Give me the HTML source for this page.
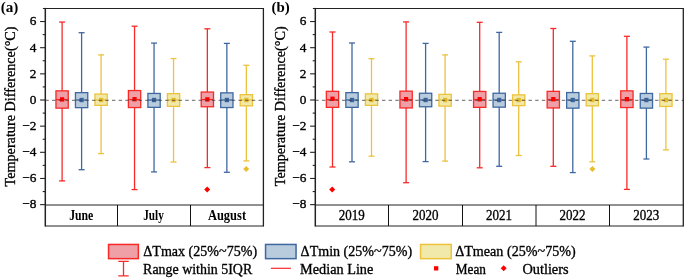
<!DOCTYPE html>
<html><head><meta charset="utf-8"><style>
*{margin:0;padding:0}
html,body{width:685px;height:278px;background:#fff;overflow:hidden}
svg{display:block;will-change:transform}
text{font-family:"Liberation Serif",serif;fill:#000;stroke:#000;stroke-width:0.2px}
</style></head>
<body><svg width="685" height="278" viewBox="0 0 685 278">
<rect width="685" height="278" fill="#fff"/>
<line x1="40.10" y1="204.64" x2="45.30" y2="204.64" stroke="#222" stroke-width="1.1"/>
<line x1="42.70" y1="191.56" x2="45.30" y2="191.56" stroke="#222" stroke-width="1.1"/>
<line x1="40.10" y1="178.48" x2="45.30" y2="178.48" stroke="#222" stroke-width="1.1"/>
<line x1="42.70" y1="165.40" x2="45.30" y2="165.40" stroke="#222" stroke-width="1.1"/>
<line x1="40.10" y1="152.32" x2="45.30" y2="152.32" stroke="#222" stroke-width="1.1"/>
<line x1="42.70" y1="139.24" x2="45.30" y2="139.24" stroke="#222" stroke-width="1.1"/>
<line x1="40.10" y1="126.16" x2="45.30" y2="126.16" stroke="#222" stroke-width="1.1"/>
<line x1="42.70" y1="113.08" x2="45.30" y2="113.08" stroke="#222" stroke-width="1.1"/>
<line x1="40.10" y1="100.00" x2="45.30" y2="100.00" stroke="#222" stroke-width="1.1"/>
<line x1="42.70" y1="86.92" x2="45.30" y2="86.92" stroke="#222" stroke-width="1.1"/>
<line x1="40.10" y1="73.84" x2="45.30" y2="73.84" stroke="#222" stroke-width="1.1"/>
<line x1="42.70" y1="60.76" x2="45.30" y2="60.76" stroke="#222" stroke-width="1.1"/>
<line x1="40.10" y1="47.68" x2="45.30" y2="47.68" stroke="#222" stroke-width="1.1"/>
<line x1="42.70" y1="34.60" x2="45.30" y2="34.60" stroke="#222" stroke-width="1.1"/>
<line x1="40.10" y1="21.52" x2="45.30" y2="21.52" stroke="#222" stroke-width="1.1"/>
<line x1="62.10" y1="22.05" x2="62.10" y2="108.40" stroke="#F72A28" stroke-width="1.3"/>
<line x1="62.10" y1="90.60" x2="62.10" y2="180.90" stroke="#F72A28" stroke-width="1.3"/>
<line x1="59.10" y1="22.05" x2="65.10" y2="22.05" stroke="#F72A28" stroke-width="1.3"/>
<line x1="59.10" y1="180.90" x2="65.10" y2="180.90" stroke="#F72A28" stroke-width="1.3"/>
<rect x="55.95" y="90.85" width="12.30" height="17.30" fill="#EEA0A6" stroke="#F72A28" stroke-width="1.3"/>
<line x1="55.90" y1="99.60" x2="68.30" y2="99.60" stroke="#F72A28" stroke-width="1.3"/>
<rect x="60.00" y="97.20" width="4.2" height="4.4" fill="#FF0000"/>
<line x1="81.60" y1="32.70" x2="81.60" y2="107.90" stroke="#3F68A0" stroke-width="1.3"/>
<line x1="81.60" y1="92.40" x2="81.60" y2="169.70" stroke="#3F68A0" stroke-width="1.3"/>
<line x1="78.60" y1="32.70" x2="84.60" y2="32.70" stroke="#3F68A0" stroke-width="1.3"/>
<line x1="78.60" y1="169.70" x2="84.60" y2="169.70" stroke="#3F68A0" stroke-width="1.3"/>
<rect x="75.45" y="92.65" width="12.30" height="15.00" fill="#B8CCDE" stroke="#3F68A0" stroke-width="1.3"/>
<line x1="75.40" y1="100.00" x2="87.80" y2="100.00" stroke="#3F68A0" stroke-width="1.3"/>
<rect x="79.50" y="97.80" width="4.2" height="4.4" fill="#3A64A0"/>
<line x1="101.10" y1="54.90" x2="101.10" y2="105.60" stroke="#EDC23C" stroke-width="1.3"/>
<line x1="101.10" y1="93.80" x2="101.10" y2="153.60" stroke="#EDC23C" stroke-width="1.3"/>
<line x1="98.10" y1="54.90" x2="104.10" y2="54.90" stroke="#EDC23C" stroke-width="1.3"/>
<line x1="98.10" y1="153.60" x2="104.10" y2="153.60" stroke="#EDC23C" stroke-width="1.3"/>
<rect x="94.95" y="94.05" width="12.30" height="11.30" fill="#F1E9AA" stroke="#EDC23C" stroke-width="1.3"/>
<line x1="94.90" y1="100.00" x2="107.30" y2="100.00" stroke="#EDC23C" stroke-width="1.3"/>
<rect x="99.00" y="97.80" width="4.2" height="4.4" fill="#E5BA2A"/>
<line x1="134.55" y1="26.20" x2="134.55" y2="107.80" stroke="#F72A28" stroke-width="1.3"/>
<line x1="134.55" y1="90.30" x2="134.55" y2="189.60" stroke="#F72A28" stroke-width="1.3"/>
<line x1="131.55" y1="26.20" x2="137.55" y2="26.20" stroke="#F72A28" stroke-width="1.3"/>
<line x1="131.55" y1="189.60" x2="137.55" y2="189.60" stroke="#F72A28" stroke-width="1.3"/>
<rect x="128.40" y="90.55" width="12.30" height="17.00" fill="#EEA0A6" stroke="#F72A28" stroke-width="1.3"/>
<line x1="128.35" y1="99.60" x2="140.75" y2="99.60" stroke="#F72A28" stroke-width="1.3"/>
<rect x="132.45" y="97.00" width="4.2" height="4.4" fill="#FF0000"/>
<line x1="154.05" y1="43.10" x2="154.05" y2="107.60" stroke="#3F68A0" stroke-width="1.3"/>
<line x1="154.05" y1="93.20" x2="154.05" y2="171.90" stroke="#3F68A0" stroke-width="1.3"/>
<line x1="151.05" y1="43.10" x2="157.05" y2="43.10" stroke="#3F68A0" stroke-width="1.3"/>
<line x1="151.05" y1="171.90" x2="157.05" y2="171.90" stroke="#3F68A0" stroke-width="1.3"/>
<rect x="147.90" y="93.45" width="12.30" height="13.90" fill="#B8CCDE" stroke="#3F68A0" stroke-width="1.3"/>
<line x1="147.85" y1="100.00" x2="160.25" y2="100.00" stroke="#3F68A0" stroke-width="1.3"/>
<rect x="151.95" y="97.80" width="4.2" height="4.4" fill="#3A64A0"/>
<line x1="173.55" y1="58.60" x2="173.55" y2="106.60" stroke="#EDC23C" stroke-width="1.3"/>
<line x1="173.55" y1="93.40" x2="173.55" y2="162.00" stroke="#EDC23C" stroke-width="1.3"/>
<line x1="170.55" y1="58.60" x2="176.55" y2="58.60" stroke="#EDC23C" stroke-width="1.3"/>
<line x1="170.55" y1="162.00" x2="176.55" y2="162.00" stroke="#EDC23C" stroke-width="1.3"/>
<rect x="167.40" y="93.65" width="12.30" height="12.70" fill="#F1E9AA" stroke="#EDC23C" stroke-width="1.3"/>
<line x1="167.35" y1="100.00" x2="179.75" y2="100.00" stroke="#EDC23C" stroke-width="1.3"/>
<rect x="171.45" y="97.80" width="4.2" height="4.4" fill="#E5BA2A"/>
<line x1="207.35" y1="28.80" x2="207.35" y2="107.00" stroke="#F72A28" stroke-width="1.3"/>
<line x1="207.35" y1="91.80" x2="207.35" y2="167.60" stroke="#F72A28" stroke-width="1.3"/>
<line x1="204.35" y1="28.80" x2="210.35" y2="28.80" stroke="#F72A28" stroke-width="1.3"/>
<line x1="204.35" y1="167.60" x2="210.35" y2="167.60" stroke="#F72A28" stroke-width="1.3"/>
<rect x="201.20" y="92.05" width="12.30" height="14.70" fill="#EEA0A6" stroke="#F72A28" stroke-width="1.3"/>
<line x1="201.15" y1="99.60" x2="213.55" y2="99.60" stroke="#F72A28" stroke-width="1.3"/>
<rect x="205.25" y="97.20" width="4.2" height="4.4" fill="#FF0000"/>
<line x1="226.85" y1="43.40" x2="226.85" y2="107.80" stroke="#3F68A0" stroke-width="1.3"/>
<line x1="226.85" y1="92.60" x2="226.85" y2="172.30" stroke="#3F68A0" stroke-width="1.3"/>
<line x1="223.85" y1="43.40" x2="229.85" y2="43.40" stroke="#3F68A0" stroke-width="1.3"/>
<line x1="223.85" y1="172.30" x2="229.85" y2="172.30" stroke="#3F68A0" stroke-width="1.3"/>
<rect x="220.70" y="92.85" width="12.30" height="14.70" fill="#B8CCDE" stroke="#3F68A0" stroke-width="1.3"/>
<line x1="220.65" y1="100.00" x2="233.05" y2="100.00" stroke="#3F68A0" stroke-width="1.3"/>
<rect x="224.75" y="97.80" width="4.2" height="4.4" fill="#3A64A0"/>
<line x1="246.35" y1="65.30" x2="246.35" y2="106.10" stroke="#EDC23C" stroke-width="1.3"/>
<line x1="246.35" y1="94.40" x2="246.35" y2="160.90" stroke="#EDC23C" stroke-width="1.3"/>
<line x1="243.35" y1="65.30" x2="249.35" y2="65.30" stroke="#EDC23C" stroke-width="1.3"/>
<line x1="243.35" y1="160.90" x2="249.35" y2="160.90" stroke="#EDC23C" stroke-width="1.3"/>
<rect x="240.20" y="94.65" width="12.30" height="11.20" fill="#F1E9AA" stroke="#EDC23C" stroke-width="1.3"/>
<line x1="240.15" y1="100.00" x2="252.55" y2="100.00" stroke="#EDC23C" stroke-width="1.3"/>
<rect x="244.25" y="97.80" width="4.2" height="4.4" fill="#E5BA2A"/>
<line x1="45.30" y1="100.30" x2="263.40" y2="100.30" stroke="#404040" stroke-opacity="0.8" stroke-width="1" stroke-dasharray="3.4 3.26" stroke-dashoffset="-0.1"/>
<path d="M207.20 186.60L210.20 189.60L207.20 192.60L204.20 189.60Z" fill="#FF0000"/>
<path d="M246.20 166.10L249.20 169.10L246.20 172.10L243.20 169.10Z" fill="#E8BE30"/>
<line x1="42.90" y1="8.50" x2="264.00" y2="8.50" stroke="#222" stroke-width="1.2"/>
<line x1="263.40" y1="8.50" x2="263.40" y2="226.50" stroke="#222" stroke-width="1.3"/>
<line x1="45.30" y1="7.90" x2="45.30" y2="226.50" stroke="#222" stroke-width="1.5"/>
<line x1="45.30" y1="205.0" x2="263.40" y2="205.0" stroke="#222" stroke-width="1.0"/>
<line x1="45.30" y1="226.00" x2="263.40" y2="226.00" stroke="#222" stroke-width="1.0"/>
<line x1="117.50" y1="205" x2="117.50" y2="226.00" stroke="#111" stroke-width="1.0"/>
<line x1="190.50" y1="205" x2="190.50" y2="226.00" stroke="#111" stroke-width="1.0"/>
<line x1="310.10" y1="204.64" x2="315.30" y2="204.64" stroke="#222" stroke-width="1.1"/>
<line x1="312.70" y1="191.56" x2="315.30" y2="191.56" stroke="#222" stroke-width="1.1"/>
<line x1="310.10" y1="178.48" x2="315.30" y2="178.48" stroke="#222" stroke-width="1.1"/>
<line x1="312.70" y1="165.40" x2="315.30" y2="165.40" stroke="#222" stroke-width="1.1"/>
<line x1="310.10" y1="152.32" x2="315.30" y2="152.32" stroke="#222" stroke-width="1.1"/>
<line x1="312.70" y1="139.24" x2="315.30" y2="139.24" stroke="#222" stroke-width="1.1"/>
<line x1="310.10" y1="126.16" x2="315.30" y2="126.16" stroke="#222" stroke-width="1.1"/>
<line x1="312.70" y1="113.08" x2="315.30" y2="113.08" stroke="#222" stroke-width="1.1"/>
<line x1="310.10" y1="100.00" x2="315.30" y2="100.00" stroke="#222" stroke-width="1.1"/>
<line x1="312.70" y1="86.92" x2="315.30" y2="86.92" stroke="#222" stroke-width="1.1"/>
<line x1="310.10" y1="73.84" x2="315.30" y2="73.84" stroke="#222" stroke-width="1.1"/>
<line x1="312.70" y1="60.76" x2="315.30" y2="60.76" stroke="#222" stroke-width="1.1"/>
<line x1="310.10" y1="47.68" x2="315.30" y2="47.68" stroke="#222" stroke-width="1.1"/>
<line x1="312.70" y1="34.60" x2="315.30" y2="34.60" stroke="#222" stroke-width="1.1"/>
<line x1="310.10" y1="21.52" x2="315.30" y2="21.52" stroke="#222" stroke-width="1.1"/>
<line x1="332.50" y1="32.00" x2="332.50" y2="107.60" stroke="#F72A28" stroke-width="1.3"/>
<line x1="332.50" y1="91.10" x2="332.50" y2="167.00" stroke="#F72A28" stroke-width="1.3"/>
<line x1="329.50" y1="32.00" x2="335.50" y2="32.00" stroke="#F72A28" stroke-width="1.3"/>
<line x1="329.50" y1="167.00" x2="335.50" y2="167.00" stroke="#F72A28" stroke-width="1.3"/>
<rect x="326.35" y="91.35" width="12.30" height="16.00" fill="#EEA0A6" stroke="#F72A28" stroke-width="1.3"/>
<line x1="326.30" y1="99.60" x2="338.70" y2="99.60" stroke="#F72A28" stroke-width="1.3"/>
<rect x="330.40" y="96.60" width="4.2" height="4.4" fill="#FF0000"/>
<line x1="352.00" y1="43.00" x2="352.00" y2="107.60" stroke="#3F68A0" stroke-width="1.3"/>
<line x1="352.00" y1="92.40" x2="352.00" y2="161.80" stroke="#3F68A0" stroke-width="1.3"/>
<line x1="349.00" y1="43.00" x2="355.00" y2="43.00" stroke="#3F68A0" stroke-width="1.3"/>
<line x1="349.00" y1="161.80" x2="355.00" y2="161.80" stroke="#3F68A0" stroke-width="1.3"/>
<rect x="345.85" y="92.65" width="12.30" height="14.70" fill="#B8CCDE" stroke="#3F68A0" stroke-width="1.3"/>
<line x1="345.80" y1="100.00" x2="358.20" y2="100.00" stroke="#3F68A0" stroke-width="1.3"/>
<rect x="349.90" y="97.80" width="4.2" height="4.4" fill="#3A64A0"/>
<line x1="371.50" y1="58.70" x2="371.50" y2="105.60" stroke="#EDC23C" stroke-width="1.3"/>
<line x1="371.50" y1="93.60" x2="371.50" y2="156.20" stroke="#EDC23C" stroke-width="1.3"/>
<line x1="368.50" y1="58.70" x2="374.50" y2="58.70" stroke="#EDC23C" stroke-width="1.3"/>
<line x1="368.50" y1="156.20" x2="374.50" y2="156.20" stroke="#EDC23C" stroke-width="1.3"/>
<rect x="365.35" y="93.85" width="12.30" height="11.50" fill="#F1E9AA" stroke="#EDC23C" stroke-width="1.3"/>
<line x1="365.30" y1="100.00" x2="377.70" y2="100.00" stroke="#EDC23C" stroke-width="1.3"/>
<rect x="369.40" y="97.80" width="4.2" height="4.4" fill="#E5BA2A"/>
<line x1="406.10" y1="21.90" x2="406.10" y2="108.20" stroke="#F72A28" stroke-width="1.3"/>
<line x1="406.10" y1="90.90" x2="406.10" y2="182.70" stroke="#F72A28" stroke-width="1.3"/>
<line x1="403.10" y1="21.90" x2="409.10" y2="21.90" stroke="#F72A28" stroke-width="1.3"/>
<line x1="403.10" y1="182.70" x2="409.10" y2="182.70" stroke="#F72A28" stroke-width="1.3"/>
<rect x="399.95" y="91.15" width="12.30" height="16.80" fill="#EEA0A6" stroke="#F72A28" stroke-width="1.3"/>
<line x1="399.90" y1="99.60" x2="412.30" y2="99.60" stroke="#F72A28" stroke-width="1.3"/>
<rect x="404.00" y="97.00" width="4.2" height="4.4" fill="#FF0000"/>
<line x1="425.60" y1="43.40" x2="425.60" y2="107.00" stroke="#3F68A0" stroke-width="1.3"/>
<line x1="425.60" y1="93.00" x2="425.60" y2="161.60" stroke="#3F68A0" stroke-width="1.3"/>
<line x1="422.60" y1="43.40" x2="428.60" y2="43.40" stroke="#3F68A0" stroke-width="1.3"/>
<line x1="422.60" y1="161.60" x2="428.60" y2="161.60" stroke="#3F68A0" stroke-width="1.3"/>
<rect x="419.45" y="93.25" width="12.30" height="13.50" fill="#B8CCDE" stroke="#3F68A0" stroke-width="1.3"/>
<line x1="419.40" y1="100.00" x2="431.80" y2="100.00" stroke="#3F68A0" stroke-width="1.3"/>
<rect x="423.50" y="97.80" width="4.2" height="4.4" fill="#3A64A0"/>
<line x1="445.10" y1="54.90" x2="445.10" y2="106.40" stroke="#EDC23C" stroke-width="1.3"/>
<line x1="445.10" y1="94.10" x2="445.10" y2="161.10" stroke="#EDC23C" stroke-width="1.3"/>
<line x1="442.10" y1="54.90" x2="448.10" y2="54.90" stroke="#EDC23C" stroke-width="1.3"/>
<line x1="442.10" y1="161.10" x2="448.10" y2="161.10" stroke="#EDC23C" stroke-width="1.3"/>
<rect x="438.95" y="94.35" width="12.30" height="11.80" fill="#F1E9AA" stroke="#EDC23C" stroke-width="1.3"/>
<line x1="438.90" y1="100.00" x2="451.30" y2="100.00" stroke="#EDC23C" stroke-width="1.3"/>
<rect x="443.00" y="97.80" width="4.2" height="4.4" fill="#E5BA2A"/>
<line x1="479.70" y1="22.30" x2="479.70" y2="107.60" stroke="#F72A28" stroke-width="1.3"/>
<line x1="479.70" y1="91.20" x2="479.70" y2="167.80" stroke="#F72A28" stroke-width="1.3"/>
<line x1="476.70" y1="22.30" x2="482.70" y2="22.30" stroke="#F72A28" stroke-width="1.3"/>
<line x1="476.70" y1="167.80" x2="482.70" y2="167.80" stroke="#F72A28" stroke-width="1.3"/>
<rect x="473.55" y="91.45" width="12.30" height="15.90" fill="#EEA0A6" stroke="#F72A28" stroke-width="1.3"/>
<line x1="473.50" y1="99.60" x2="485.90" y2="99.60" stroke="#F72A28" stroke-width="1.3"/>
<rect x="477.60" y="97.00" width="4.2" height="4.4" fill="#FF0000"/>
<line x1="499.20" y1="32.40" x2="499.20" y2="107.40" stroke="#3F68A0" stroke-width="1.3"/>
<line x1="499.20" y1="93.00" x2="499.20" y2="166.30" stroke="#3F68A0" stroke-width="1.3"/>
<line x1="496.20" y1="32.40" x2="502.20" y2="32.40" stroke="#3F68A0" stroke-width="1.3"/>
<line x1="496.20" y1="166.30" x2="502.20" y2="166.30" stroke="#3F68A0" stroke-width="1.3"/>
<rect x="493.05" y="93.25" width="12.30" height="13.90" fill="#B8CCDE" stroke="#3F68A0" stroke-width="1.3"/>
<line x1="493.00" y1="100.00" x2="505.40" y2="100.00" stroke="#3F68A0" stroke-width="1.3"/>
<rect x="497.10" y="97.80" width="4.2" height="4.4" fill="#3A64A0"/>
<line x1="518.70" y1="61.80" x2="518.70" y2="105.90" stroke="#EDC23C" stroke-width="1.3"/>
<line x1="518.70" y1="94.60" x2="518.70" y2="155.50" stroke="#EDC23C" stroke-width="1.3"/>
<line x1="515.70" y1="61.80" x2="521.70" y2="61.80" stroke="#EDC23C" stroke-width="1.3"/>
<line x1="515.70" y1="155.50" x2="521.70" y2="155.50" stroke="#EDC23C" stroke-width="1.3"/>
<rect x="512.55" y="94.85" width="12.30" height="10.80" fill="#F1E9AA" stroke="#EDC23C" stroke-width="1.3"/>
<line x1="512.50" y1="100.00" x2="524.90" y2="100.00" stroke="#EDC23C" stroke-width="1.3"/>
<rect x="516.60" y="97.80" width="4.2" height="4.4" fill="#E5BA2A"/>
<line x1="553.30" y1="28.50" x2="553.30" y2="108.20" stroke="#F72A28" stroke-width="1.3"/>
<line x1="553.30" y1="91.10" x2="553.30" y2="166.30" stroke="#F72A28" stroke-width="1.3"/>
<line x1="550.30" y1="28.50" x2="556.30" y2="28.50" stroke="#F72A28" stroke-width="1.3"/>
<line x1="550.30" y1="166.30" x2="556.30" y2="166.30" stroke="#F72A28" stroke-width="1.3"/>
<rect x="547.15" y="91.35" width="12.30" height="16.60" fill="#EEA0A6" stroke="#F72A28" stroke-width="1.3"/>
<line x1="547.10" y1="99.60" x2="559.50" y2="99.60" stroke="#F72A28" stroke-width="1.3"/>
<rect x="551.20" y="97.00" width="4.2" height="4.4" fill="#FF0000"/>
<line x1="572.80" y1="41.30" x2="572.80" y2="108.40" stroke="#3F68A0" stroke-width="1.3"/>
<line x1="572.80" y1="92.30" x2="572.80" y2="172.60" stroke="#3F68A0" stroke-width="1.3"/>
<line x1="569.80" y1="41.30" x2="575.80" y2="41.30" stroke="#3F68A0" stroke-width="1.3"/>
<line x1="569.80" y1="172.60" x2="575.80" y2="172.60" stroke="#3F68A0" stroke-width="1.3"/>
<rect x="566.65" y="92.55" width="12.30" height="15.60" fill="#B8CCDE" stroke="#3F68A0" stroke-width="1.3"/>
<line x1="566.60" y1="100.00" x2="579.00" y2="100.00" stroke="#3F68A0" stroke-width="1.3"/>
<rect x="570.70" y="97.80" width="4.2" height="4.4" fill="#3A64A0"/>
<line x1="592.30" y1="55.90" x2="592.30" y2="106.10" stroke="#EDC23C" stroke-width="1.3"/>
<line x1="592.30" y1="93.40" x2="592.30" y2="161.80" stroke="#EDC23C" stroke-width="1.3"/>
<line x1="589.30" y1="55.90" x2="595.30" y2="55.90" stroke="#EDC23C" stroke-width="1.3"/>
<line x1="589.30" y1="161.80" x2="595.30" y2="161.80" stroke="#EDC23C" stroke-width="1.3"/>
<rect x="586.15" y="93.65" width="12.30" height="12.20" fill="#F1E9AA" stroke="#EDC23C" stroke-width="1.3"/>
<line x1="586.10" y1="100.00" x2="598.50" y2="100.00" stroke="#EDC23C" stroke-width="1.3"/>
<rect x="590.20" y="97.80" width="4.2" height="4.4" fill="#E5BA2A"/>
<line x1="626.90" y1="36.30" x2="626.90" y2="107.80" stroke="#F72A28" stroke-width="1.3"/>
<line x1="626.90" y1="90.60" x2="626.90" y2="189.40" stroke="#F72A28" stroke-width="1.3"/>
<line x1="623.90" y1="36.30" x2="629.90" y2="36.30" stroke="#F72A28" stroke-width="1.3"/>
<line x1="623.90" y1="189.40" x2="629.90" y2="189.40" stroke="#F72A28" stroke-width="1.3"/>
<rect x="620.75" y="90.85" width="12.30" height="16.70" fill="#EEA0A6" stroke="#F72A28" stroke-width="1.3"/>
<line x1="620.70" y1="99.60" x2="633.10" y2="99.60" stroke="#F72A28" stroke-width="1.3"/>
<rect x="624.80" y="97.00" width="4.2" height="4.4" fill="#FF0000"/>
<line x1="646.40" y1="47.10" x2="646.40" y2="108.40" stroke="#3F68A0" stroke-width="1.3"/>
<line x1="646.40" y1="93.20" x2="646.40" y2="159.00" stroke="#3F68A0" stroke-width="1.3"/>
<line x1="643.40" y1="47.10" x2="649.40" y2="47.10" stroke="#3F68A0" stroke-width="1.3"/>
<line x1="643.40" y1="159.00" x2="649.40" y2="159.00" stroke="#3F68A0" stroke-width="1.3"/>
<rect x="640.25" y="93.45" width="12.30" height="14.70" fill="#B8CCDE" stroke="#3F68A0" stroke-width="1.3"/>
<line x1="640.20" y1="100.00" x2="652.60" y2="100.00" stroke="#3F68A0" stroke-width="1.3"/>
<rect x="644.30" y="97.80" width="4.2" height="4.4" fill="#3A64A0"/>
<line x1="665.90" y1="59.20" x2="665.90" y2="106.70" stroke="#EDC23C" stroke-width="1.3"/>
<line x1="665.90" y1="93.40" x2="665.90" y2="149.90" stroke="#EDC23C" stroke-width="1.3"/>
<line x1="662.90" y1="59.20" x2="668.90" y2="59.20" stroke="#EDC23C" stroke-width="1.3"/>
<line x1="662.90" y1="149.90" x2="668.90" y2="149.90" stroke="#EDC23C" stroke-width="1.3"/>
<rect x="659.75" y="93.65" width="12.30" height="12.80" fill="#F1E9AA" stroke="#EDC23C" stroke-width="1.3"/>
<line x1="659.70" y1="100.00" x2="672.10" y2="100.00" stroke="#EDC23C" stroke-width="1.3"/>
<rect x="663.80" y="97.80" width="4.2" height="4.4" fill="#E5BA2A"/>
<line x1="315.30" y1="100.30" x2="683.30" y2="100.30" stroke="#404040" stroke-opacity="0.8" stroke-width="1" stroke-dasharray="3.4 3.26" stroke-dashoffset="-0.1"/>
<path d="M332.20 186.60L335.20 189.60L332.20 192.60L329.20 189.60Z" fill="#FF0000"/>
<path d="M592.40 166.10L595.40 169.10L592.40 172.10L589.40 169.10Z" fill="#E8BE30"/>
<line x1="312.90" y1="8.50" x2="683.90" y2="8.50" stroke="#222" stroke-width="1.2"/>
<line x1="683.30" y1="8.50" x2="683.30" y2="226.50" stroke="#222" stroke-width="1.3"/>
<line x1="315.30" y1="7.90" x2="315.30" y2="226.50" stroke="#222" stroke-width="1.5"/>
<line x1="315.30" y1="205.0" x2="683.30" y2="205.0" stroke="#222" stroke-width="1.0"/>
<line x1="315.30" y1="226.00" x2="683.30" y2="226.00" stroke="#222" stroke-width="1.0"/>
<line x1="388.50" y1="205" x2="388.50" y2="226.00" stroke="#111" stroke-width="1.0"/>
<line x1="462.50" y1="205" x2="462.50" y2="226.00" stroke="#111" stroke-width="1.0"/>
<line x1="536.00" y1="205" x2="536.00" y2="226.00" stroke="#111" stroke-width="1.0"/>
<line x1="609.50" y1="205" x2="609.50" y2="226.00" stroke="#111" stroke-width="1.0"/>
<rect x="108.55" y="244.45" width="29.80" height="14.20" fill="#EEA0A6" stroke="#F72A28" stroke-width="1.5"/>
<rect x="265.55" y="244.45" width="30.50" height="14.20" fill="#B8CCDE" stroke="#3F68A0" stroke-width="1.5"/>
<rect x="420.55" y="244.45" width="30.70" height="14.20" fill="#F1E9AA" stroke="#EDC23C" stroke-width="1.5"/>
<path d="M123.5 261.3V275.8M118.3 261.3H128.7M118.3 275.8H128.7" stroke="#F72A28" stroke-width="1.3" fill="none"/>
<line x1="270.9" y1="268.3" x2="290.9" y2="268.3" stroke="#F72A28" stroke-width="1.2"/>
<rect x="434" y="266.2" width="4.3" height="4.3" fill="#FF0000"/>
<path d="M503.7 265.3L506.7 268.3L503.7 271.3L500.7 268.3Z" fill="#FF0000"/>
<text x="0.70" y="11.80" textLength="17.75" lengthAdjust="spacingAndGlyphs" style="font-size:15.6px;font-weight:bold;stroke-width:0">(a)</text>
<text x="271.60" y="11.80" textLength="18.25" lengthAdjust="spacingAndGlyphs" style="font-size:15.6px;font-weight:bold;stroke-width:0">(b)</text>
<text transform="translate(14.60,106.50) rotate(-90)" text-anchor="middle" textLength="160.00" lengthAdjust="spacingAndGlyphs" style="font-size:15.0px;font-weight:normal;stroke-width:0.32px">Temperature Difference(°C)</text>
<text transform="translate(285.00,106.30) rotate(-90)" text-anchor="middle" textLength="160.00" lengthAdjust="spacingAndGlyphs" style="font-size:15.0px;font-weight:normal;stroke-width:0.32px">Temperature Difference(°C)</text>
<text x="36.30" y="208.49" text-anchor="end" style="font-size:13.3px;font-weight:normal;stroke-width:0.35px">−8</text>
<text x="36.30" y="182.33" text-anchor="end" style="font-size:13.3px;font-weight:normal;stroke-width:0.35px">−6</text>
<text x="36.30" y="156.17" text-anchor="end" style="font-size:13.3px;font-weight:normal;stroke-width:0.35px">−4</text>
<text x="36.30" y="130.01" text-anchor="end" style="font-size:13.3px;font-weight:normal;stroke-width:0.35px">−2</text>
<text x="36.30" y="103.85" text-anchor="end" style="font-size:13.3px;font-weight:normal;stroke-width:0.35px">0</text>
<text x="36.30" y="77.69" text-anchor="end" style="font-size:13.3px;font-weight:normal;stroke-width:0.35px">2</text>
<text x="36.30" y="51.53" text-anchor="end" style="font-size:13.3px;font-weight:normal;stroke-width:0.35px">4</text>
<text x="36.30" y="25.37" text-anchor="end" style="font-size:13.3px;font-weight:normal;stroke-width:0.35px">6</text>
<text x="81.25" y="219.80" text-anchor="middle" textLength="24.20" lengthAdjust="spacingAndGlyphs" style="font-size:13.6px;font-weight:bold;stroke-width:0">June</text>
<text x="153.55" y="219.80" text-anchor="middle" textLength="20.60" lengthAdjust="spacingAndGlyphs" style="font-size:13.6px;font-weight:bold;stroke-width:0">July</text>
<text x="227.00" y="219.80" text-anchor="middle" textLength="38.20" lengthAdjust="spacingAndGlyphs" style="font-size:13.6px;font-weight:bold;stroke-width:0">August</text>
<text x="306.30" y="208.49" text-anchor="end" style="font-size:13.3px;font-weight:normal;stroke-width:0.35px">−8</text>
<text x="306.30" y="182.33" text-anchor="end" style="font-size:13.3px;font-weight:normal;stroke-width:0.35px">−6</text>
<text x="306.30" y="156.17" text-anchor="end" style="font-size:13.3px;font-weight:normal;stroke-width:0.35px">−4</text>
<text x="306.30" y="130.01" text-anchor="end" style="font-size:13.3px;font-weight:normal;stroke-width:0.35px">−2</text>
<text x="306.30" y="103.85" text-anchor="end" style="font-size:13.3px;font-weight:normal;stroke-width:0.35px">0</text>
<text x="306.30" y="77.69" text-anchor="end" style="font-size:13.3px;font-weight:normal;stroke-width:0.35px">2</text>
<text x="306.30" y="51.53" text-anchor="end" style="font-size:13.3px;font-weight:normal;stroke-width:0.35px">4</text>
<text x="306.30" y="25.37" text-anchor="end" style="font-size:13.3px;font-weight:normal;stroke-width:0.35px">6</text>
<text x="351.80" y="219.70" text-anchor="middle" textLength="26.00" lengthAdjust="spacingAndGlyphs" style="font-size:13.6px;font-weight:normal;stroke-width:0.32px">2019</text>
<text x="425.40" y="219.70" text-anchor="middle" textLength="26.00" lengthAdjust="spacingAndGlyphs" style="font-size:13.6px;font-weight:normal;stroke-width:0.32px">2020</text>
<text x="499.00" y="219.70" text-anchor="middle" textLength="26.00" lengthAdjust="spacingAndGlyphs" style="font-size:13.6px;font-weight:normal;stroke-width:0.32px">2021</text>
<text x="572.60" y="219.70" text-anchor="middle" textLength="26.00" lengthAdjust="spacingAndGlyphs" style="font-size:13.6px;font-weight:normal;stroke-width:0.32px">2022</text>
<text x="646.20" y="219.70" text-anchor="middle" textLength="26.00" lengthAdjust="spacingAndGlyphs" style="font-size:13.6px;font-weight:normal;stroke-width:0.32px">2023</text>
<text x="143.30" y="256.40" textLength="113.80" lengthAdjust="spacingAndGlyphs" style="font-size:14px;font-weight:normal;stroke-width:0.32px">ΔTmax (25%~75%)</text>
<text x="300.60" y="256.40" textLength="111.50" lengthAdjust="spacingAndGlyphs" style="font-size:14px;font-weight:normal;stroke-width:0.32px">ΔTmin (25%~75%)</text>
<text x="455.20" y="256.40" textLength="120.51" lengthAdjust="spacingAndGlyphs" style="font-size:14px;font-weight:normal;stroke-width:0.32px">ΔTmean (25%~75%)</text>
<text x="143.10" y="273.60" textLength="109.09" lengthAdjust="spacingAndGlyphs" style="font-size:14px;font-weight:normal;stroke-width:0.32px">Range within 5IQR</text>
<text x="300.10" y="273.60" textLength="73.21" lengthAdjust="spacingAndGlyphs" style="font-size:14px;font-weight:normal;stroke-width:0.32px">Median Line</text>
<text x="455.70" y="273.60" textLength="30.24" lengthAdjust="spacingAndGlyphs" style="font-size:14px;font-weight:normal;stroke-width:0.32px">Mean</text>
<text x="522.40" y="273.60" textLength="46.21" lengthAdjust="spacingAndGlyphs" style="font-size:14px;font-weight:normal;stroke-width:0.32px">Outliers</text>
</svg></body></html>
